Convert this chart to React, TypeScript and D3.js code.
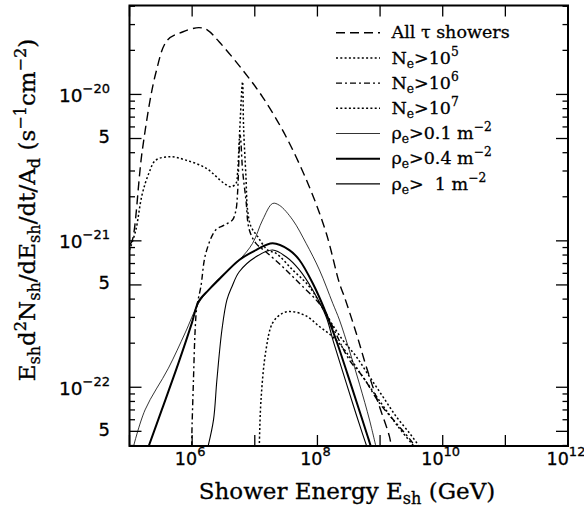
import React from 'react';
import * as d3 from 'd3';

// log10 of shower energy (GeV) and flux E dN/dE/dt/A (s^-1 cm^-2)
const allLogE = [5.0, 5.045, 5.205, 5.42, 5.605, 5.845, 6.11, 6.245, 6.43, 6.805, 7.125, 7.5, 7.87, 8.14, 8.35, 8.43, 8.62, 8.78, 8.99, 9.15, 9.18];
const allFlux = [9.35e-22, 1.01e-21, 4.17e-21, 1.4e-20, 2.35e-20, 2.67e-20, 2.86e-20, 2.75e-20, 2.29e-20, 1.47e-20, 9.6e-21, 5.14e-21, 2.34e-21, 1.13e-21, 5.15e-22, 4.15e-22, 2.34e-22, 1.38e-22, 7.38e-23, 4.6e-23, 3.9e-23];

const n5LogE = [5.0, 5.1, 5.2, 5.31, 5.42, 5.66, 5.9, 6.22, 6.51, 6.62, 6.7, 6.725, 6.752, 6.805, 6.821, 6.859, 6.885, 6.94, 7.045, 7.205, 7.34, 7.605, 7.872, 8.192, 8.405, 8.619, 8.832, 9.045, 9.259, 9.472, 9.605, 9.62];
const n5Flux = [8.65e-22, 1.18e-21, 2.06e-21, 2.9e-21, 3.56e-21, 3.75e-21, 3.56e-21, 3.14e-21, 2.47e-21, 2.34e-21, 2.47e-21, 2.9e-21, 4.88e-21, 1.22e-20, 6.01e-21, 2.74e-21, 1.62e-21, 1.25e-21, 1.07e-21, 8.65e-22, 8.22e-22, 6.33e-22, 4.86e-22, 2.88e-22, 2.1e-22, 1.62e-22, 1.18e-22, 8.62e-23, 6.3e-23, 4.85e-23, 4.04e-23, 3.9e-23];

const n6LogE = [5.995, 5.995, 6.021, 6.048, 6.075, 6.139, 6.219, 6.379, 6.512, 6.645, 6.699, 6.725, 6.768, 6.805, 6.859, 6.912, 7.019, 7.179, 7.445, 7.712, 7.979, 8.139, 8.3, 8.512, 8.725, 8.992, 9.259, 9.525, 9.545];
const n6Flux = [3.9e-23, 4.6e-23, 1.12e-22, 2.46e-22, 3.55e-22, 4.86e-22, 8.26e-22, 1.19e-21, 1.28e-21, 1.39e-21, 1.62e-21, 2.12e-21, 5.27e-21, 3.04e-21, 1.9e-21, 1.19e-21, 9.62e-22, 8.4e-22, 6.65e-22, 5.13e-22, 3.95e-22, 3.2e-22, 2.3e-22, 1.53e-22, 1.18e-22, 7.78e-23, 5.68e-23, 4.13e-23, 3.9e-23];

const n7LogE = [7.072, 7.099, 7.179, 7.285, 7.445, 7.605, 7.819, 8.032, 8.245, 8.432, 8.672, 8.992, 9.28, 9.552];
const n7Flux = [3.9e-23, 8.18e-23, 1.8e-22, 2.75e-22, 3.21e-22, 3.28e-22, 3.07e-22, 2.6e-22, 2.21e-22, 1.8e-22, 1.27e-22, 8.07e-23, 5.44e-23, 3.9e-23];

const rho01LogE = [5.061, 5.248, 5.621, 5.888, 6.101, 6.261, 6.432, 6.752, 6.965, 7.125, 7.285, 7.392, 7.605, 7.819, 8.032, 8.245, 8.352, 8.512, 8.672, 8.832, 8.936];
const rho01Flux = [3.9e-23, 7.0e-23, 1.35e-22, 2.35e-22, 3.74e-22, 4.61e-22, 5.57e-22, 7.4e-22, 9.62e-22, 1.39e-21, 1.8e-21, 1.75e-21, 1.39e-21, 9.62e-22, 6.33e-22, 3.74e-22, 2.88e-22, 1.77e-22, 1.05e-22, 5.97e-23, 3.9e-23];

const rho04LogE = [5.301, 5.515, 5.781, 5.995, 6.101, 6.261, 6.421, 6.752, 7.019, 7.285, 7.552, 7.712, 7.925, 8.139, 8.304, 8.48, 8.656, 8.8, 8.856];
const rho04Flux = [3.9e-23, 7.0e-23, 1.46e-22, 2.74e-22, 3.84e-22, 4.61e-22, 5.4e-22, 7.4e-22, 8.65e-22, 9.62e-22, 8.65e-22, 7.4e-22, 5.13e-22, 3.2e-22, 2.07e-22, 1.23e-22, 7.22e-23, 4.65e-23, 3.9e-23];

const rho1LogE = [6.251, 6.341, 6.395, 6.475, 6.555, 6.635, 6.752, 7.019, 7.285, 7.499, 7.712, 7.925, 8.139, 8.256, 8.416, 8.576, 8.72, 8.792];
const rho1Flux = [3.9e-23, 5.98e-23, 1.12e-22, 2.46e-22, 3.95e-22, 4.86e-22, 6.15e-22, 7.78e-22, 8.65e-22, 7.78e-22, 6.33e-22, 4.61e-22, 3.03e-22, 2.04e-22, 1.23e-22, 7.45e-23, 4.8e-23, 3.9e-23];

// axis ticks
const xTickExps = [5, 6, 7, 8, 9, 10, 11, 12];
const xLabelExps = [6, 8, 10, 12];
const yDecades = [-23, -22, -21, -20];
const yMantissas = [1, 2, 3, 4, 5, 6, 7, 8, 9];
const yLabelExps = [-20, -21, -22];
const yFiveExps = [-21, -22, -23];

const W = 584;
const H = 510;
const L = 129.5, R = 568, T = 5.5, B = 446;

const serif = '"DejaVu Serif", serif';
const sans = '"DejaVu Sans", sans-serif';

const x = d3.scaleLog().domain([1e5, 1e12]).range([L, R]);
const y = d3.scaleLog().domain([3.97e-23, 4.05e-20]).range([B, T]);

const line = d3
  .line<[number, number]>()
  .x(d => x(Math.pow(10, d[0])))
  .y(d => y(d[1]))
  .curve(d3.curveCatmullRom.alpha(0.5));

type Part = [string, 'n' | 'sub' | 'sup'];

// text with sub/superscripts: each tspan shifts relative to the previous one
function Rich({ parts, subDy = 5, supDy = 8 }: { parts: Part[]; subDy?: number; supDy?: number }) {
  const off = (k: Part[1]) => (k === 'sub' ? subDy : k === 'sup' ? -supDy : 0);
  return (
    <>
      {parts.map((p, i) => (
        <tspan
          key={i}
          dy={off(p[1]) - (i ? off(parts[i - 1][1]) : 0)}
          fontSize={p[1] === 'n' ? undefined : '0.7em'}
        >
          {p[0]}
        </tspan>
      ))}
    </>
  );
}

const series = [
  { key: 'all', logE: allLogE, flux: allFlux, dash: '9 5', width: 1.4,
    label: [['All τ showers', 'n']] as Part[] },
  { key: 'n5', logE: n5LogE, flux: n5Flux, dash: '2 2.3', width: 1.5,
    label: [['N', 'n'], ['e', 'sub'], ['>10', 'n'], ['5', 'sup']] as Part[] },
  { key: 'n6', logE: n6LogE, flux: n6Flux, dash: '6 3 2 3', width: 1.4,
    label: [['N', 'n'], ['e', 'sub'], ['>10', 'n'], ['6', 'sup']] as Part[] },
  { key: 'n7', logE: n7LogE, flux: n7Flux, dash: '2 2.3', width: 1.5,
    label: [['N', 'n'], ['e', 'sub'], ['>10', 'n'], ['7', 'sup']] as Part[] },
  { key: 'r01', logE: rho01LogE, flux: rho01Flux, dash: null, width: 0.8,
    label: [['ρ', 'n'], ['e', 'sub'], ['>0.1 m', 'n'], ['−2', 'sup']] as Part[] },
  { key: 'r04', logE: rho04LogE, flux: rho04Flux, dash: null, width: 2,
    label: [['ρ', 'n'], ['e', 'sub'], ['>0.4 m', 'n'], ['−2', 'sup']] as Part[] },
  { key: 'r1', logE: rho1LogE, flux: rho1Flux, dash: null, width: 1.1,
    label: [['ρ', 'n'], ['e', 'sub'], ['>\u00a0\u00a01 m', 'n'], ['−2', 'sup']] as Part[] },
];

const xTitle: Part[] = [['Shower Energy E', 'n'], ['sh', 'sub'], [' (GeV)', 'n']];
const yTitle: Part[] = [
  ['E', 'n'], ['sh', 'sub'], ['d', 'n'], ['2', 'sup'], ['N', 'n'], ['sh', 'sub'],
  ['/dE', 'n'], ['sh', 'sub'], ['/dt/A', 'n'], ['d', 'sub'], [' (s', 'n'], ['−1', 'sup'],
  ['cm', 'n'], ['−2', 'sup'], [')', 'n'],
];

export default function App() {
  const yTicks = yDecades
    .flatMap(e => yMantissas.map(m => ({ v: m * Math.pow(10, e), major: m === 1 || m === 5 })))
    .filter(t => t.v >= 3.97e-23 && t.v <= 4.05e-20);

  return (
    <svg width={W} height={H} style={{ position: 'absolute', left: 0, top: 0, background: '#fff' }}>
      <defs>
        <clipPath id="plot">
          <rect x={L} y={T} width={R - L} height={B - T} />
        </clipPath>
      </defs>

      <g clipPath="url(#plot)" fill="none" stroke="#000">
        {series.map(s => (
          <path
            key={s.key}
            d={line(s.logE.map((e, i) => [e, s.flux[i]] as [number, number])) || ''}
            strokeWidth={s.width}
            strokeDasharray={s.dash || undefined}
            strokeLinejoin="round"
          />
        ))}
      </g>

      {/* ticks */}
      <g stroke="#000" strokeWidth={1.3}>
        {xTickExps.map(e => (
          <g key={e}>
            <line x1={x(Math.pow(10, e))} x2={x(Math.pow(10, e))} y1={B} y2={B - 11} />
            <line x1={x(Math.pow(10, e))} x2={x(Math.pow(10, e))} y1={T} y2={T + 11} />
          </g>
        ))}
        {yTicks.map((t, i) => (
          <g key={i}>
            <line x1={L} x2={L + (t.major ? 12 : 5.5)} y1={y(t.v)} y2={y(t.v)} />
            <line x1={R} x2={R - (t.major ? 12 : 5.5)} y1={y(t.v)} y2={y(t.v)} />
          </g>
        ))}
      </g>

      <rect x={L} y={T} width={R - L} height={B - T} fill="none" stroke="#000" strokeWidth={2} />

      {/* tick labels */}
      <g fontFamily={sans} fill="#000" stroke="#000" strokeWidth={0.3}>
        {xLabelExps.map(e => (
          <text key={e} x={x(Math.pow(10, e)) - 2} y={465} textAnchor="middle" fontSize={17.5}>
            10<tspan dy={-9} fontSize={13}>{e}</tspan>
          </text>
        ))}
        {yLabelExps.map(e => (
          <text key={e} x={110} y={y(Math.pow(10, e)) + 7.5} textAnchor="end" fontSize={18.5}>
            10<tspan dy={-9} fontSize={13}>{'−' + Math.abs(e)}</tspan>
          </text>
        ))}
        {yFiveExps.map(e => (
          <text key={e} x={110} y={y(5 * Math.pow(10, e)) + 4.5} textAnchor="end" fontSize={18}>5</text>
        ))}
      </g>

      {/* axis titles */}
      <g fontFamily={serif} fontSize={23} fill="#000" stroke="#000" strokeWidth={0.3}>
        <text x={347} y={499} textAnchor="middle">
          <Rich parts={xTitle} />
        </text>
        <text transform="translate(35,210) rotate(-90)" textAnchor="middle">
          <Rich parts={yTitle} subDy={5} supDy={9} />
        </text>
      </g>

      {/* legend */}
      <g fontFamily={serif} fontSize={17.5}>
        {series.map((s, i) => {
          const ly = 32.7 + i * 25.2;
          return (
            <g key={s.key}>
              <line x1={336} x2={380} y1={ly} y2={ly} stroke="#000" strokeWidth={s.width}
                strokeDasharray={s.dash || undefined} />
              <text x={391.5} y={ly + 5.6} style={{ whiteSpace: 'pre' }} stroke="#000" strokeWidth={0.3}>
                <Rich parts={s.label} subDy={4} supDy={8} />
              </text>
            </g>
          );
        })}
      </g>
    </svg>
  );
}
